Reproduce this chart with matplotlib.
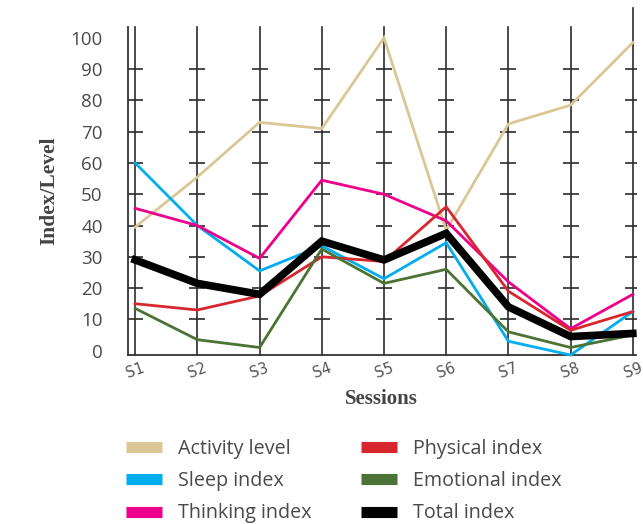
import matplotlib
matplotlib.use("Agg")
from matplotlib import pyplot as plt
from matplotlib.lines import Line2D

# ------------------------------------------------------------- #
# Data
# ------------------------------------------------------------- #

sessions = ["S1", "S2", "S3", "S4", "S5", "S6", "S7", "S8", "S9"]

activity_level = [39.5, 55.5, 73, 71, 100, 38.5, 72.5, 78.5, 98.5]
sleep_index = [60, 40, 25.5, 33.5, 23, 34.5, 3, -1.4, 12.5]
thinking_index = [45.5, 40, 29.5, 54.5, 50, 41.5, 22, 7, 18]
physical_index = [15, 13, 17.5, 30, 28.5, 46, 19, 6.5, 12.5]
emotional_index = [13.5, 3.5, 1, 32.5, 21.5, 26, 6, 1, 5]
total_index = [29, 21.5, 18, 35, 29, 37.5, 14, 4.5, 5.5]

series_names = ["Activity level", "Sleep index", "Thinking index",
                "Physical index", "Emotional index", "Total index"]
series_colors = ["#dbc795", "#00aeef", "#ec008c", "#d7262e", "#4b7335", "#000000"]

y_ticks = [0, 10, 20, 30, 40, 50, 60, 70, 80, 90, 100]
cross_levels = [10, 20, 30, 40, 50, 60, 70, 80, 90]

# ------------------------------------------------------------- #
# Drawing
# ------------------------------------------------------------- #

fig = plt.figure(figsize=(6.43, 5.24), dpi=100)
ax = fig.add_axes([0.1986, 0.3225, 0.7904, 0.6255])

x = list(range(len(sessions)))
grid_color = "#2b2b2b"

# vertical session lines with little cross marks
for i in x:
    top = 109.5 if i == len(sessions) - 1 else 103.4
    ax.plot([i, i], [-1.4, top], color=grid_color, lw=1.2, zorder=1, clip_on=False)
    ax.plot([i] * len(cross_levels), cross_levels, linestyle="none", marker="_",
            markersize=12, markeredgewidth=1.2, color=grid_color, zorder=1)

all_series = [activity_level, sleep_index, thinking_index,
              physical_index, emotional_index, total_index]
for values, name, color in zip(all_series, series_names, series_colors):
    width = 5.5 if name == "Total index" else 2.0
    ax.plot(x, values, color=color, lw=width, label=name, zorder=3,
            solid_joinstyle="miter", clip_on=False)

ax.set_xlim(-0.12, 8.05)
ax.set_ylim(-1.4, 103.4)

for side in ["top", "right"]:
    ax.spines[side].set_visible(False)
for side in ["left", "bottom"]:
    ax.spines[side].set_color("#333333")
    ax.spines[side].set_linewidth(1.3)

ax.set_yticks(y_ticks)
ax.set_yticklabels([str(v) for v in y_ticks], fontfamily="Open Sans", fontsize=13.5,
                   color="#4a4a4a")
ax.tick_params(axis="y", length=0, pad=18)

ax.set_xticks(x)
ax.set_xticklabels(sessions, fontfamily="DejaVu Sans", fontsize=10.5, color="#555555",
                   rotation=20)
ax.tick_params(axis="x", length=0, pad=4)

ax.set_ylabel("Index/Level", fontfamily="Liberation Serif", fontweight="bold",
              fontsize=15.5, color="#444444", labelpad=8)
ax.set_xlabel("Sessions", fontfamily="Liberation Serif", fontweight="bold",
              fontsize=15, color="#444444", labelpad=6)

handles = [Line2D([0], [0], color=c, lw=8, solid_capstyle="butt") for c in series_colors]
fig.legend(handles, series_names,
           ncol=2, loc="upper left", bbox_to_anchor=(0.181, 0.181), frameon=False,
           borderpad=0, handlelength=1.8, handletextpad=0.8, columnspacing=2.55,
           labelspacing=0.62, prop={"family": "Open Sans", "size": 14.2},
           labelcolor="#4a4a4a")

fig.savefig("out.png", dpi=100, facecolor="white")
